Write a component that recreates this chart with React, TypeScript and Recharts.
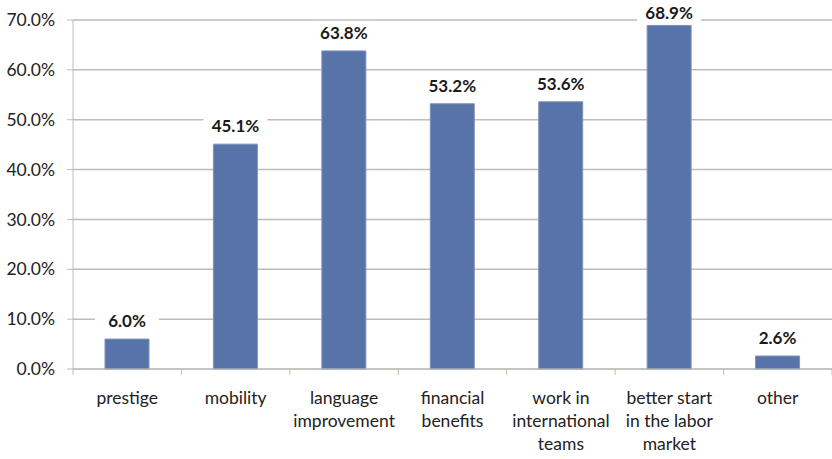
import { Bar, BarChart, CartesianGrid, LabelList, XAxis, YAxis } from "recharts";

const categories = [
  "prestige",
  "mobility",
  "language improvement",
  "financial benefits",
  "work in international teams",
  "better start in the labor market",
  "other",
];
// lines of each x label as they wrap in the picture
const labelLines = [
  ["prestige"],
  ["mobility"],
  ["language", "improvement"],
  ["financial", "benefits"],
  ["work in", "international", "teams"],
  ["better start", "in the labor", "market"],
  ["other"],
];
const shares = [6.0, 45.1, 63.8, 53.2, 53.6, 68.9, 2.6];
const yTicks = [0, 10, 20, 30, 40, 50, 60, 70];

const data = categories.map((c, i) => ({ name: c, lines: labelLines[i], value: shares[i] }));

const FONT = "Lato, 'Open Sans', sans-serif";
const GRID = "#bdbcb8";

function XTick(props: any) {
  const { x, y, index, visibleTicksCount, width, payload } = props;
  const band = width / visibleTicksCount;
  const lines: string[] = labelLines[index] ?? [payload.value];
  return (
    <g>
      <line x1={x - band / 2} x2={x - band / 2} y1={y} y2={y + 6} stroke={GRID} />
      {index === visibleTicksCount - 1 && (
        <line x1={x + band / 2} x2={x + band / 2} y1={y} y2={y + 6} stroke={GRID} />
      )}
      <text textAnchor="middle" fontFamily={FONT} fontSize={17.5} fill="#222">
        {lines.map((l, k) => (
          <tspan key={k} x={x} y={y + 35 + k * 23}>
            {l}
          </tspan>
        ))}
      </text>
    </g>
  );
}

function ValueLabel(props: any) {
  const { x, y, width, value } = props;
  const cx = x + width / 2;
  // keep the label inside the chart, as the top bar's label is in the picture
  const base = Math.max(y - 12, 19);
  return (
    <g>
      <rect x={cx - 32} y={base - 18} width={64} height={22} fill="#fff" />
      <text
        x={cx}
        y={base}
        textAnchor="middle"
        fontFamily={FONT}
        fontWeight="bold"
        fontSize={17}
        fill="#1a1a1a"
      >
        {value.toFixed(1)}%
      </text>
    </g>
  );
}

export default function App() {
  return (
    <div style={{ background: "#fff", width: 832, height: 459 }}>
      <style>{`body{margin:0}`}</style>
      <BarChart
        width={832}
        height={459}
        data={data}
        margin={{ top: 20, right: 0, bottom: 0, left: 0 }}
        barCategoryGap="30%"
      >
        <CartesianGrid vertical={false} stroke={GRID} strokeWidth={1.5} />
        <YAxis
          width={73}
          domain={[0, 70]}
          ticks={yTicks}
          interval={0}
          tickFormatter={(v: number) => `${v.toFixed(1)}%`}
          stroke={GRID}
          tickSize={6}
          tickMargin={12}
          tick={{ fontFamily: FONT, fontSize: 17.5, fill: "#222" }}
        />
        <XAxis
          dataKey="name"
          height={90}
          interval={0}
          stroke={GRID}
          tickLine={false}
          tickSize={0}
          tickMargin={0}
          tick={<XTick />}
        />
        <Bar dataKey="value" fill="#5873a8" stroke="#7c92bf" strokeWidth={1} barSize={44} isAnimationActive={false}>
          <LabelList dataKey="value" content={<ValueLabel />} />
        </Bar>
      </BarChart>
    </div>
  );
}
